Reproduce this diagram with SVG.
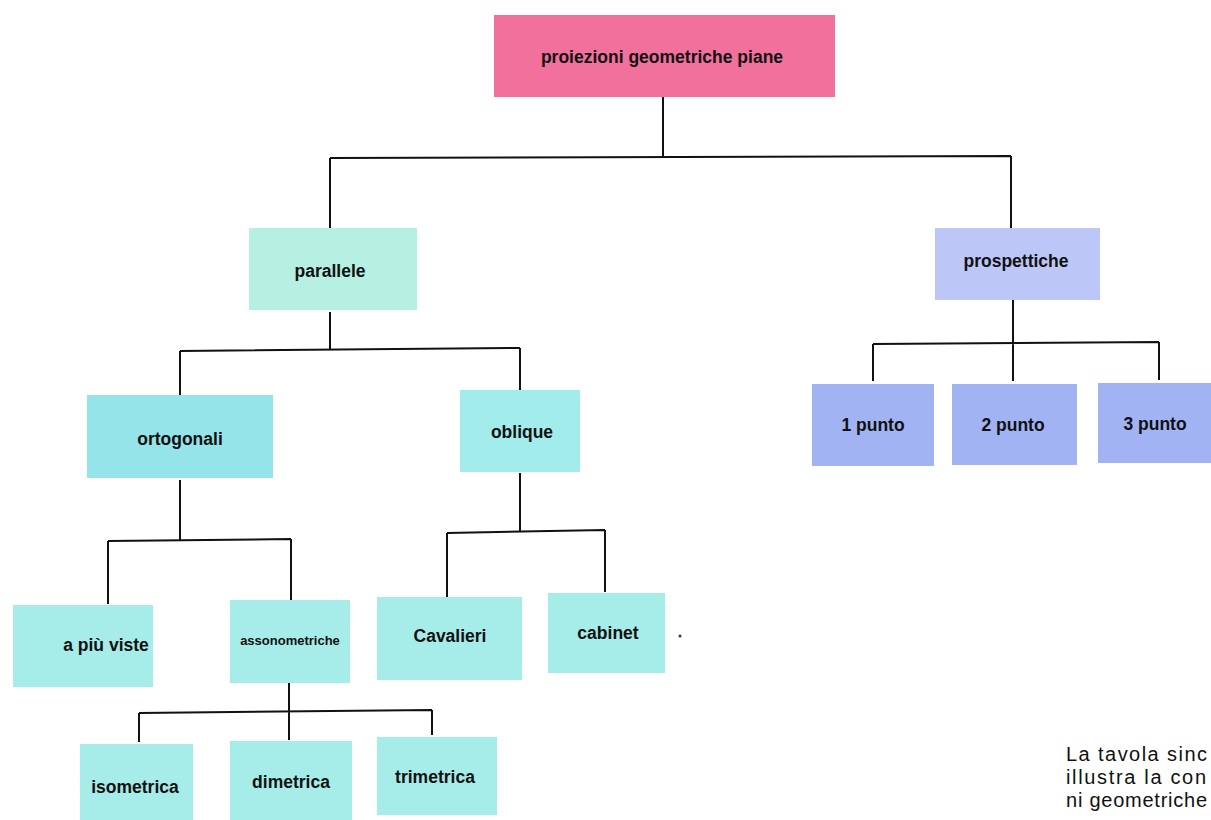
<svg xmlns="http://www.w3.org/2000/svg" width="1211" height="820" viewBox="0 0 1211 820">
<style>
.lbl{font-family:"Liberation Sans",Arial,sans-serif;font-weight:bold;font-size:17.5px;fill:#111;text-anchor:middle;dominant-baseline:central}
.sm{font-size:13px}
.cap{font-family:"Liberation Sans",Arial,sans-serif;font-size:20px;fill:#111}
.c{fill:none;stroke:#111;stroke-width:2}
.teal{fill:#a6ece8}
.blue{fill:#a2b3f4}
</style>
<rect width="1211" height="820" fill="#fff"/>
<g id="connectors">
<path class="c" d="M663 97V157M330 158L1011 156M330 158V228M1011 156V232"/>
<path class="c" d="M330 312V350M180 351L520 348M180 351V397M520 348V390"/>
<path class="c" d="M1013 300V381M873 344L1159 342M873 344V381M1159 342V380"/>
<path class="c" d="M180 480V540M108 541L291 539M108 541V604M291 539V600"/>
<path class="c" d="M520 473V531M447 533L605 530M447 533V597M605 530V592"/>
<path class="c" d="M289 683V740M139 713L432 710M139 713V742M432 710V735"/>
</g>
<g id="n-root"><rect x="494" y="15" width="341" height="82" fill="#f2709c"/><text class="lbl" x="662" y="57">proiezioni geometriche piane</text></g>
<g id="n-parallele"><rect x="249" y="228" width="168" height="82" fill="#b6f0e2"/><text class="lbl" x="330" y="271">parallele</text></g>
<g id="n-prospettiche"><rect x="935" y="228" width="165" height="72" fill="#bcc7f8"/><text class="lbl" x="1016" y="261">prospettiche</text></g>
<g id="n-ortogonali"><rect x="87" y="395" width="186" height="83" fill="#94e4ea"/><text class="lbl" x="180" y="439">ortogonali</text></g>
<g id="n-oblique"><rect x="460" y="390" width="120" height="82" fill="#a2ecec"/><text class="lbl" x="522" y="432">oblique</text></g>
<g id="n-1punto"><rect x="812" y="384" width="122" height="82" class="blue"/><text class="lbl" x="873" y="425">1 punto</text></g>
<g id="n-2punto"><rect x="952" y="384" width="125" height="81" class="blue"/><text class="lbl" x="1013" y="425">2 punto</text></g>
<g id="n-3punto"><rect x="1098" y="383" width="113" height="80" class="blue"/><text class="lbl" x="1155" y="424">3 punto</text></g>
<g id="n-piuviste"><rect x="13" y="605" width="140" height="82" class="teal"/><text class="lbl" x="106" y="645">a più viste</text></g>
<g id="n-assonometriche"><rect x="230" y="600" width="120" height="83" class="teal"/><text class="lbl sm" x="290" y="640">assonometriche</text></g>
<g id="n-cavalieri"><rect x="377" y="597" width="145" height="83" class="teal"/><text class="lbl" x="450" y="636">Cavalieri</text></g>
<g id="n-cabinet"><rect x="548" y="593" width="117" height="80" class="teal"/><text class="lbl" x="608" y="633">cabinet</text></g>
<circle cx="680" cy="636" r="1.5" fill="#333"/>
<g id="n-isometrica"><rect x="80" y="744" width="113" height="76" class="teal"/><text class="lbl" x="135" y="787">isometrica</text></g>
<g id="n-dimetrica"><rect x="230" y="741" width="122" height="79" class="teal"/><text class="lbl" x="291" y="782">dimetrica</text></g>
<g id="n-trimetrica"><rect x="377" y="737" width="120" height="78" class="teal"/><text class="lbl" x="435" y="777">trimetrica</text></g>
<g id="caption">
<text class="cap" x="1066" y="761" textLength="141" lengthAdjust="spacing">La tavola sinc</text>
<text class="cap" x="1066" y="784" textLength="140" lengthAdjust="spacing">illustra la con</text>
<text class="cap" x="1066" y="807" textLength="141" lengthAdjust="spacing">ni geometriche</text>
</g>
</svg>
